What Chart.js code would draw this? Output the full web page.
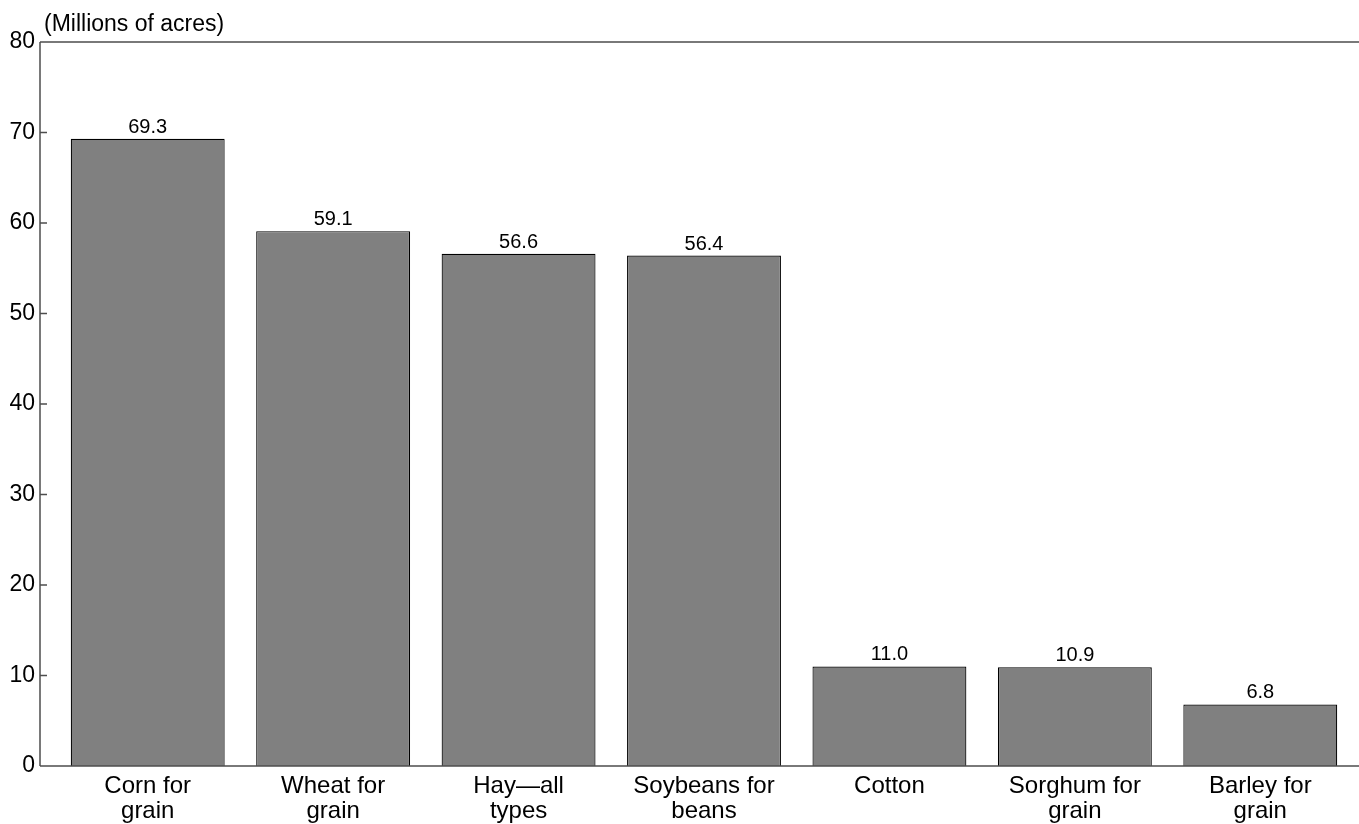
<!DOCTYPE html>
<html>
<head>
<meta charset="utf-8">
<script src="https://cdn.jsdelivr.net/npm/chart.js@4/dist/chart.umd.min.js"></script>
<style>
  html, body { margin: 0; padding: 0; background: #fff; }
  #wrap { width: 1359px; height: 824px; }
</style>
</head>
<body>
<div id="wrap"><canvas id="myChart" width="1359" height="824"></canvas></div>
<script>
var categories = [
    ['Corn for', 'grain'],
    ['Wheat for', 'grain'],
    ['Hay\u2014all', 'types'],
    ['Soybeans for', 'beans'],
    'Cotton',
    ['Sorghum for', 'grain'],
    ['Barley for', 'grain']
];
var acres = [69.3, 59.1, 56.6, 56.4, 11.0, 10.9, 6.8];
var yTicks = [0, 10, 20, 30, 40, 50, 60, 70, 80];
var unitLabel = '(Millions of acres)';

var FONT = 'Liberation Sans, Arial, Helvetica, sans-serif';

// axis lines, tick marks, unit label and value labels
var decor = {
    id: 'decor',
    afterDatasetsDraw: function(chart) {
        var ctx = chart.ctx;
        var y = chart.scales.y;
        var axisX = 40;
        ctx.save();
        ctx.strokeStyle = '#4d4d4d';
        ctx.lineWidth = 1.5;
        ctx.beginPath();
        ctx.moveTo(axisX, y.getPixelForValue(80));
        ctx.lineTo(axisX, y.getPixelForValue(0));
        ctx.moveTo(axisX, y.getPixelForValue(80));
        ctx.lineTo(chart.width, y.getPixelForValue(80));
        ctx.moveTo(axisX, y.getPixelForValue(0));
        ctx.lineTo(chart.width, y.getPixelForValue(0));
        yTicks.forEach(function(t) {
            var py = y.getPixelForValue(t);
            ctx.moveTo(axisX, py);
            ctx.lineTo(axisX + 7, py);
        });
        ctx.stroke();

        ctx.fillStyle = '#000';
        ctx.font = '23px ' + FONT;
        ctx.textAlign = 'left';
        ctx.textBaseline = 'alphabetic';
        ctx.fillText(unitLabel, 44, 31);

        ctx.font = '20px ' + FONT;
        ctx.textAlign = 'center';
        var meta = chart.getDatasetMeta(0);
        meta.data.forEach(function(bar, i) {
            ctx.fillText(acres[i].toFixed(1), bar.x, bar.y - 6);
        });
        ctx.restore();
    }
};

var ctx = document.getElementById('myChart').getContext('2d');
var myChart = new Chart(ctx, {
    type: 'bar',
    data: {
        labels: categories,
        datasets: [{
            data: acres,
            backgroundColor: '#808080',
            borderColor: '#000',
            borderWidth: 1.2,
            borderSkipped: 'bottom',
            categoryPercentage: 1,
            barPercentage: 0.83
        }]
    },
    options: {
        responsive: false,
        animation: false,
        layout: { padding: { top: 42, right: 6, left: 0, bottom: 0 } },
        plugins: { legend: { display: false }, tooltip: { enabled: false } },
        scales: {
            x: {
                grid: { display: false, drawTicks: false },
                border: { display: false },
                ticks: { color: '#000', font: { family: FONT, size: 24, lineHeight: 1.05 }, padding: 8, maxRotation: 0, autoSkip: false },
                afterFit: function(s) { s.height = 58; }
            },
            y: {
                min: 0, max: 80,
                grid: { display: false, drawTicks: false },
                border: { display: false },
                ticks: { stepSize: 10, color: '#000', font: { family: FONT, size: 23 }, padding: 20 },
                afterFit: function(s) { s.width = 55; }
            }
        }
    },
    plugins: [decor]
});
</script>
</body>
</html>
